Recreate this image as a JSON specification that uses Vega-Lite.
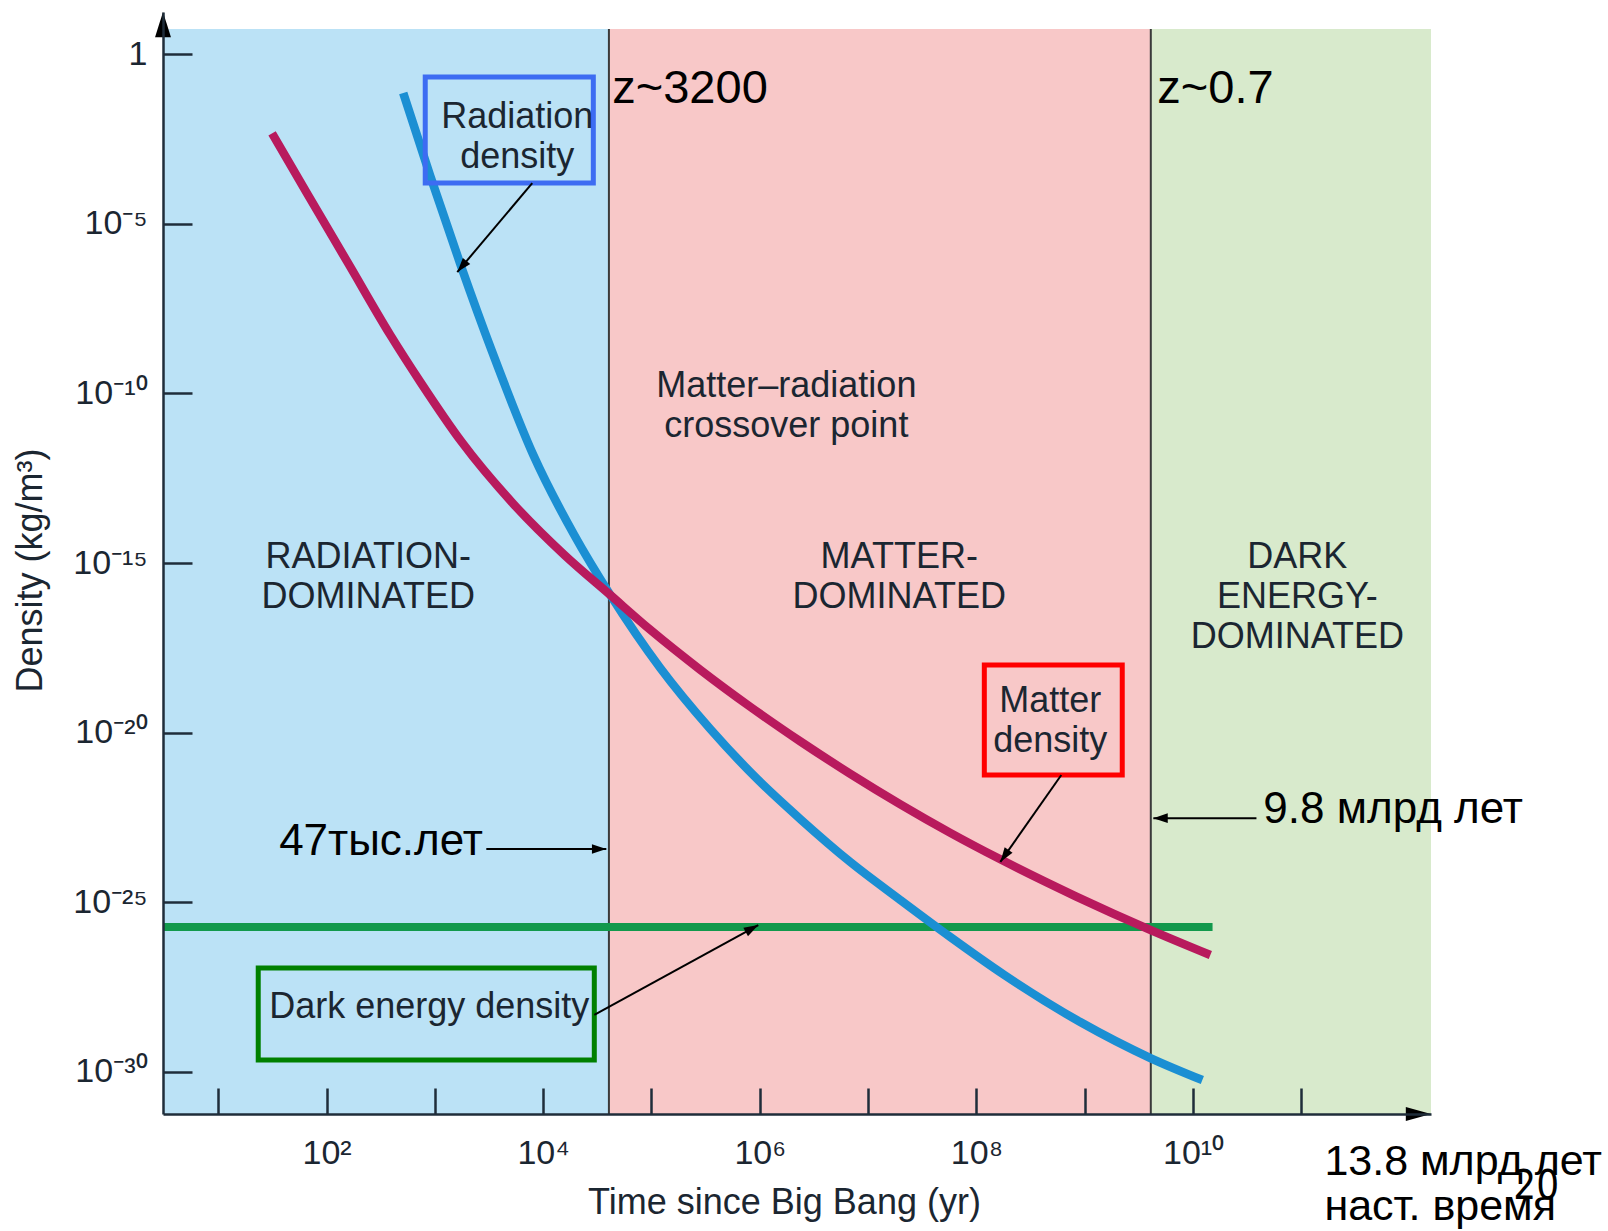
{
  "$schema": "https://vega.github.io/schema/vega-lite/v6.json",
  "width": 1268,
  "height": 1102,
  "autosize": {"type": "none"},
  "padding": {"left": 163, "top": 12, "right": 177, "bottom": 117},
  "background": "white",
  "config": {"view": {"stroke": null}, "axis": {"grid": false}},
  "datasets": {
    "regions": [
      {"region": "radiation", "t0": 3.09, "t1": 40457, "rho0": 5.754e-32, "rho1": 5.458},
      {"region": "matter", "t0": 40457, "t1": 4.074e9, "rho0": 5.754e-32, "rho1": 5.458},
      {"region": "dark", "t0": 4.074e9, "t1": 1.574e12, "rho0": 5.754e-32, "rho1": 5.458}
    ],
    "boundaries": [
      {"t": 40457, "rho0": 5.754e-32, "rho1": 5.458},
      {"t": 4.074e9, "rho0": 5.754e-32, "rho1": 5.458}
    ],
    "curves": [
      {"series": "Dark energy", "t": 3.09, "rho": 1.862e-26},
      {"series": "Dark energy", "t": 1.514e10, "rho": 1.862e-26},
      {"series": "Radiation", "t": 510.5, "rho": 0.0710},
      {"series": "Radiation", "t": 907.8, "rho": 2.535e-4},
      {"series": "Radiation", "t": 1718, "rho": 6.47e-7},
      {"series": "Radiation", "t": 3388, "rho": 1.648e-9},
      {"series": "Radiation", "t": 8110, "rho": 1.52e-12},
      {"series": "Radiation", "t": 19360, "rho": 6.67e-15},
      {"series": "Radiation", "t": 41690, "rho": 1.135e-16},
      {"series": "Radiation", "t": 120500, "rho": 8.02e-19},
      {"series": "Radiation", "t": 349000, "rho": 1.276e-20},
      {"series": "Radiation", "t": 968000, "rho": 4.01e-22},
      {"series": "Radiation", "t": 2.366e6, "rho": 2.84e-23},
      {"series": "Radiation", "t": 6.85e6, "rho": 1.535e-24},
      {"series": "Radiation", "t": 1.986e7, "rho": 1.164e-25},
      {"series": "Radiation", "t": 5.74e7, "rho": 9.46e-27},
      {"series": "Radiation", "t": 1.811e8, "rho": 7.18e-28},
      {"series": "Radiation", "t": 9.10e8, "rho": 2.96e-29},
      {"series": "Radiation", "t": 4.04e9, "rho": 2.57e-30},
      {"series": "Radiation", "t": 1.219e10, "rho": 5.77e-31},
      {"series": "Matter", "t": 31.4, "rho": 4.60e-3},
      {"series": "Matter", "t": 67.3, "rho": 7.08e-5},
      {"series": "Matter", "t": 161.1, "rho": 6.21e-7},
      {"series": "Matter", "t": 384.6, "rho": 5.48e-9},
      {"series": "Matter", "t": 741.3, "rho": 2.08e-10},
      {"series": "Matter", "t": 1770, "rho": 3.67e-12},
      {"series": "Matter", "t": 5272, "rho": 5.65e-14},
      {"series": "Matter", "t": 15670, "rho": 1.738e-15},
      {"series": "Matter", "t": 41690, "rho": 1.135e-16},
      {"series": "Matter", "t": 97500, "rho": 1.072e-17},
      {"series": "Matter", "t": 282500, "rho": 7.10e-19},
      {"series": "Matter", "t": 818000, "rho": 5.75e-20},
      {"series": "Matter", "t": 2.366e6, "rho": 5.53e-21},
      {"series": "Matter", "t": 6.85e6, "rho": 6.10e-22},
      {"series": "Matter", "t": 1.986e7, "rho": 7.69e-23},
      {"series": "Matter", "t": 5.74e7, "rho": 1.112e-23},
      {"series": "Matter", "t": 1.663e8, "rho": 1.845e-24},
      {"series": "Matter", "t": 8.36e8, "rho": 1.476e-25},
      {"series": "Matter", "t": 4.12e9, "rho": 1.489e-26},
      {"series": "Matter", "t": 1.445e10, "rho": 2.79e-27}
    ],
    "boxes": [
      {"name": "radiation", "t0": 815, "t1": 29040, "rho0": 1.578e-4, "rho1": 0.210},
      {"name": "matter", "t0": 1.183e8, "t1": 2.22e9, "rho0": 5.63e-22, "rho1": 9.82e-19},
      {"name": "dark", "t0": 23.4, "t1": 29650, "rho0": 2.24e-30, "rho1": 1.15e-27}
    ],
    "arrows": [
      {"name": "radiation", "t": 7925, "rho": 1.578e-4, "t2": 1611, "rho2": 3.76e-7},
      {"name": "matter", "t": 6.08e8, "rho": 5.63e-22, "t2": 1.663e8, "rho2": 1.55e-24},
      {"name": "dark", "t": 29650, "rho": 4.79e-29, "t2": 968000, "rho2": 2.14e-26},
      {"name": "t47", "t": 2985, "rho": 3.72e-24, "t2": 38280, "rho2": 3.72e-24},
      {"name": "t98", "t": 3.85e10, "rho": 3.02e-23, "t2": 4.30e9, "rho2": 3.02e-23}
    ],
    "axisArrows": [
      {"dir": "up", "t": 3.09, "rho": 17.38},
      {"dir": "right", "t": 1.574e12, "rho": 5.754e-32}
    ],
    "chartText": [
      {"text": "Radiation\ndensity", "t": 5770, "rho": 6.59e-3},
      {"text": "Matter–radiation\ncrossover point", "t": 1.758e6, "rho": 7.78e-11},
      {"text": "RADIATION-\nDOMINATED", "t": 242.7, "rho": 7.10e-16},
      {"text": "MATTER-\nDOMINATED", "t": 1.94e7, "rho": 7.10e-16},
      {"text": "DARK\nENERGY-\nDOMINATED", "t": 9.18e10, "rho": 7.10e-16},
      {"text": "Matter\ndensity", "t": 4.81e8, "rho": 4.05e-20},
      {"text": "Dark energy density", "t": 887, "rho": 3.88e-29}
    ],
    "zNotes": [
      {"text": "z~3200", "t": 43450, "rho": 0.036},
      {"text": "z~0.7", "t": 4.68e9, "rho": 0.036}
    ],
    "notes": [
      {"text": "47тыс.лет", "t": 36.5, "rho": 2.45e-24},
      {"text": "9.8 млрд лет", "t": 4.46e10, "rho": 2.19e-23}
    ],
    "footer": [
      {"text": "13.8 млрд лет\nнаст. время", "t": 1.633e11, "rho": 9.12e-34}
    ],
    "slide": [
      {"text": "20", "t": 9.06e12, "rho": 1.80e-34}
    ]
  },
  "layer": [
    {
      "data": {"name": "regions"},
      "mark": {"type": "rect"},
      "encoding": {
        "x": {
          "field": "t0", "type": "quantitative",
          "scale": {"type": "log", "domain": [3.09, 1.574e12], "nice": false},
          "axis": {
            "zindex": 1,
            "values": [10, 100, 1000, 10000, 100000, 1000000, 10000000, 100000000, 1000000000, 10000000000, 100000000000],
            "labelExpr": "datum.value == 100 ? '10²' : datum.value == 10000 ? '10⁴' : datum.value == 1000000 ? '10⁶' : datum.value == 100000000 ? '10⁸' : datum.value == 10000000000 ? '10¹⁰' : ''",
            "tickSize": -26, "tickWidth": 2.5, "tickColor": "#1f2d3a",
            "domainColor": "#1f2d3a", "domainWidth": 2.5,
            "labelFont": "Liberation Sans", "labelFontSize": 34, "labelColor": "#1b2631",
            "labelPadding": 48, "labelOverlap": false, "labelFlush": false,
            "title": "Time since Big Bang (yr)",
            "titleFont": "Liberation Sans", "titleFontSize": 36, "titleFontWeight": "normal", "titleColor": "#1b2631",
            "titleX": 621, "titleY": 99, "titleBaseline": "alphabetic", "titleAlign": "center"
          }
        },
        "x2": {"field": "t1"},
        "y": {
          "field": "rho0", "type": "quantitative",
          "scale": {"type": "log", "domain": [5.754e-32, 17.38], "nice": false},
          "axis": {
            "zindex": 1,
            "values": [1, 1e-5, 1e-10, 1e-15, 1e-20, 1e-25, 1e-30],
            "labelExpr": "datum.value > 0.5 ? '1\u00a0' : datum.value > 1e-6 ? '10⁻⁵' : datum.value > 1e-11 ? '10⁻¹⁰' : datum.value > 1e-16 ? '10⁻¹⁵' : datum.value > 1e-21 ? '10⁻²⁰' : datum.value > 1e-26 ? '10⁻²⁵' : '10⁻³⁰'",
            "tickSize": -29, "tickWidth": 2.5, "tickColor": "#1f2d3a",
            "domainColor": "#1f2d3a", "domainWidth": 2.5,
            "labelFont": "Liberation Sans", "labelFontSize": 34, "labelColor": "#1b2631",
            "labelPadding": 45, "labelOverlap": false, "labelFlush": false,
            "title": "Density (kg/m³)",
            "titleFont": "Liberation Sans", "titleFontSize": 36, "titleFontWeight": "normal", "titleColor": "#1b2631",
            "titleX": -122, "titleY": 558, "titleAngle": -90, "titleBaseline": "alphabetic", "titleAlign": "center"
          }
        },
        "y2": {"field": "rho1"},
        "fill": {
          "field": "region", "type": "nominal",
          "scale": {"domain": ["radiation", "matter", "dark"], "range": ["#bbe2f6", "#f8c8c8", "#d8eacc"]},
          "legend": null
        }
      }
    },
    {
      "data": {"name": "boundaries"},
      "mark": {"type": "rule", "color": "#3a3a3a", "strokeWidth": 2},
      "encoding": {
        "x": {"field": "t", "type": "quantitative"},
        "y": {"field": "rho0", "type": "quantitative"},
        "y2": {"field": "rho1"}
      }
    },
    {
      "data": {"name": "curves"},
      "transform": [{"filter": "datum.series == 'Dark energy'"}],
      "mark": {"type": "line", "color": "#12994c", "strokeWidth": 8},
      "encoding": {
        "x": {"field": "t", "type": "quantitative"},
        "y": {"field": "rho", "type": "quantitative"}
      }
    },
    {
      "data": {"name": "curves"},
      "transform": [{"filter": "datum.series == 'Radiation'"}],
      "mark": {"type": "line", "color": "#1b8fd3", "strokeWidth": 8.5, "interpolate": "monotone"},
      "encoding": {
        "x": {"field": "t", "type": "quantitative"},
        "y": {"field": "rho", "type": "quantitative"}
      }
    },
    {
      "data": {"name": "curves"},
      "transform": [{"filter": "datum.series == 'Matter'"}],
      "mark": {"type": "line", "color": "#b81a5d", "strokeWidth": 8.5, "interpolate": "monotone"},
      "encoding": {
        "x": {"field": "t", "type": "quantitative"},
        "y": {"field": "rho", "type": "quantitative"}
      }
    },
    {
      "data": {"name": "boxes"},
      "mark": {"type": "rect", "fill": "transparent", "strokeWidth": 5},
      "encoding": {
        "x": {"field": "t0", "type": "quantitative"},
        "x2": {"field": "t1"},
        "y": {"field": "rho0", "type": "quantitative"},
        "y2": {"field": "rho1"},
        "stroke": {
          "field": "name", "type": "nominal",
          "scale": {"domain": ["radiation", "matter", "dark"], "range": ["#3d6cf2", "#ff0000", "#008000"]},
          "legend": null
        }
      }
    },
    {
      "data": {"name": "arrows"},
      "mark": {"type": "rule", "color": "#000000", "strokeWidth": 2},
      "encoding": {
        "x": {"field": "t", "type": "quantitative"},
        "y": {"field": "rho", "type": "quantitative"},
        "x2": {"field": "t2"},
        "y2": {"field": "rho2"}
      }
    },
    {
      "data": {"name": "arrows"},
      "transform": [{"filter": "datum.name == 'radiation'"}],
      "mark": {"type": "point", "shape": "M0,0L0.6,1.8L-0.6,1.8Z", "filled": true, "color": "#000000", "opacity": 1, "size": 256, "angle": 220},
      "encoding": {
        "x": {"field": "t2", "type": "quantitative"},
        "y": {"field": "rho2", "type": "quantitative"}
      }
    },
    {
      "data": {"name": "arrows"},
      "transform": [{"filter": "datum.name == 'matter'"}],
      "mark": {"type": "point", "shape": "M0,0L0.6,1.8L-0.6,1.8Z", "filled": true, "color": "#000000", "opacity": 1, "size": 256, "angle": 215},
      "encoding": {
        "x": {"field": "t2", "type": "quantitative"},
        "y": {"field": "rho2", "type": "quantitative"}
      }
    },
    {
      "data": {"name": "arrows"},
      "transform": [{"filter": "datum.name == 'dark'"}],
      "mark": {"type": "point", "shape": "M0,0L0.6,1.8L-0.6,1.8Z", "filled": true, "color": "#000000", "opacity": 1, "size": 256, "angle": 61},
      "encoding": {
        "x": {"field": "t2", "type": "quantitative"},
        "y": {"field": "rho2", "type": "quantitative"}
      }
    },
    {
      "data": {"name": "arrows"},
      "transform": [{"filter": "datum.name == 't47'"}],
      "mark": {"type": "point", "shape": "M0,0L0.6,1.8L-0.6,1.8Z", "filled": true, "color": "#000000", "opacity": 1, "size": 256, "angle": 90},
      "encoding": {
        "x": {"field": "t2", "type": "quantitative"},
        "y": {"field": "rho2", "type": "quantitative"}
      }
    },
    {
      "data": {"name": "arrows"},
      "transform": [{"filter": "datum.name == 't98'"}],
      "mark": {"type": "point", "shape": "M0,0L0.6,1.8L-0.6,1.8Z", "filled": true, "color": "#000000", "opacity": 1, "size": 256, "angle": 270},
      "encoding": {
        "x": {"field": "t2", "type": "quantitative"},
        "y": {"field": "rho2", "type": "quantitative"}
      }
    },
    {
      "data": {"name": "axisArrows"},
      "transform": [{"filter": "datum.dir == 'up'"}],
      "mark": {"type": "point", "shape": "M0,0L0.57,1.8L-0.57,1.8Z", "filled": true, "color": "#000000", "opacity": 1, "size": 784, "angle": 0},
      "encoding": {
        "x": {"field": "t", "type": "quantitative"},
        "y": {"field": "rho", "type": "quantitative"}
      }
    },
    {
      "data": {"name": "axisArrows"},
      "transform": [{"filter": "datum.dir == 'right'"}],
      "mark": {"type": "point", "shape": "M0,0L0.5,1.8L-0.5,1.8Z", "filled": true, "color": "#000000", "opacity": 1, "size": 784, "angle": 90},
      "encoding": {
        "x": {"field": "t", "type": "quantitative"},
        "y": {"field": "rho", "type": "quantitative"}
      }
    },
    {
      "data": {"name": "chartText"},
      "mark": {"type": "text", "font": "Liberation Sans", "fontSize": 36, "color": "#1b2631", "align": "center", "baseline": "alphabetic", "lineBreak": "\n", "lineHeight": 40},
      "encoding": {
        "x": {"field": "t", "type": "quantitative"},
        "y": {"field": "rho", "type": "quantitative"},
        "text": {"field": "text"}
      }
    },
    {
      "data": {"name": "zNotes"},
      "mark": {"type": "text", "font": "Liberation Sans", "fontSize": 47, "color": "#000000", "align": "left", "baseline": "alphabetic"},
      "encoding": {
        "x": {"field": "t", "type": "quantitative"},
        "y": {"field": "rho", "type": "quantitative"},
        "text": {"field": "text"}
      }
    },
    {
      "data": {"name": "notes"},
      "mark": {"type": "text", "font": "Liberation Sans", "fontSize": 44, "color": "#000000", "align": "left", "baseline": "alphabetic"},
      "encoding": {
        "x": {"field": "t", "type": "quantitative"},
        "y": {"field": "rho", "type": "quantitative"},
        "text": {"field": "text"}
      }
    },
    {
      "data": {"name": "footer"},
      "mark": {"type": "text", "font": "Liberation Sans", "fontSize": 43, "color": "#000000", "align": "left", "baseline": "alphabetic", "lineBreak": "\n", "lineHeight": 45},
      "encoding": {
        "x": {"field": "t", "type": "quantitative"},
        "y": {"field": "rho", "type": "quantitative"},
        "text": {"field": "text"}
      }
    },
    {
      "data": {"name": "slide"},
      "mark": {"type": "text", "font": "Liberation Sans Narrow, DejaVu Sans Condensed, Liberation Sans", "fontSize": 40, "color": "#000000", "align": "left", "baseline": "alphabetic"},
      "encoding": {
        "x": {"field": "t", "type": "quantitative"},
        "y": {"field": "rho", "type": "quantitative"},
        "text": {"field": "text"}
      }
    }
  ]
}
